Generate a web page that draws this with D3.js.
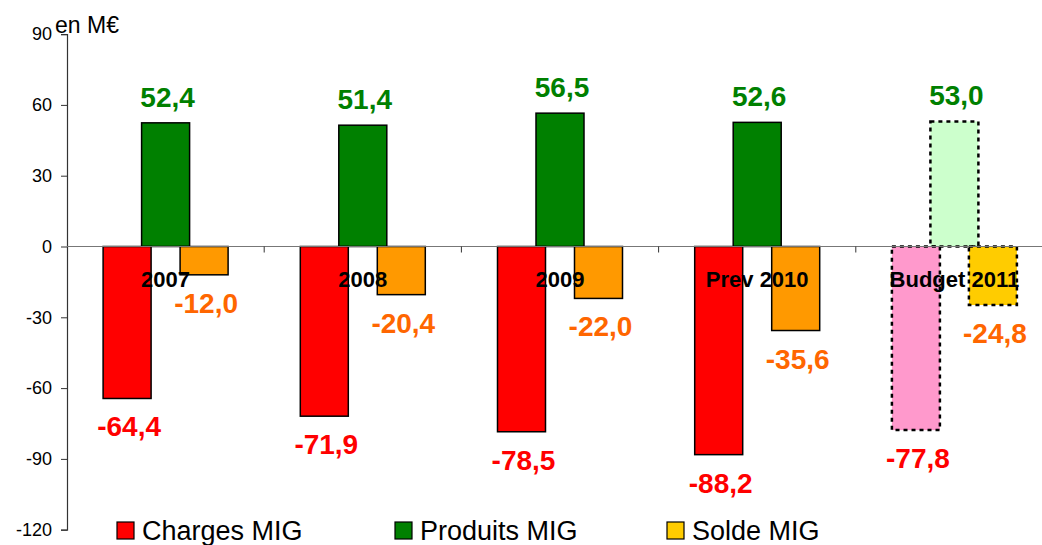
<!DOCTYPE html>
<html>
<head>
<meta charset="utf-8">
<script src="https://cdn.jsdelivr.net/npm/d3@7"></script>
<style>
  body { margin: 0; background: #fff; }
  svg { font-family: "Liberation Sans", Arial, sans-serif; }
</style>
</head>
<body>
<div id="app"></div>
<script>
const width = 1042,
  height = 545;

// data
const categories = ["2007", "2008", "2009", "Prev 2010", "Budget 2011"];
const charges = [-64.4, -71.9, -78.5, -88.2, -77.8];
const produits = [52.4, 51.4, 56.5, 52.6, 53.0];
const solde = [-12.0, -20.4, -22.0, -35.6, -24.8];
const yTicks = [90, 60, 30, 0, -30, -60, -90, -120];
const seriesNames = ["Charges MIG", "Produits MIG", "Solde MIG"];

const fills = ["#FF0000", "#008000", "#FF9900"];
const budgetFills = ["#FF99CC", "#CCFFCC", "#FFCC00"];
const labelColors = ["#FF0000", "#008000", "#FF6600"];
const legendFills = ["#FF0000", "#008000", "#FFCC00"];

const series = [charges, produits, solde];

const x = d3.scaleBand().domain(categories).range([67, 1053]).padding(0);
const y = d3.scaleLinear().domain([-120, 90]).range([529.7, 34.1]);

const barW = 48,
  step = 38.5;

const svg = d3
  .select("#app")
  .append("svg")
  .attr("width", width)
  .attr("height", height);

// y axis
const yAxis = svg
  .append("g")
  .attr("transform", "translate(67,0)")
  .call(
    d3
      .axisLeft(y)
      .tickValues(yTicks)
      .tickSize(6)
      .tickPadding(9)
      .tickFormat((d) => String(d))
  );
yAxis.select(".domain").attr("stroke", "#333").attr("stroke-width", 1.2);
yAxis.selectAll(".tick line").attr("stroke", "#333");
yAxis
  .selectAll("text")
  .attr("font-size", 18)
  .attr("fill", "#000")
  .attr("font-family", "Liberation Sans, Arial");

svg
  .append("text")
  .attr("x", 55)
  .attr("y", 33)
  .attr("font-size", 23)
  .text("en M€");

// bars
const bars = [];
categories.forEach((c, i) => {
  series.forEach((s, j) => {
    bars.push({ cat: c, i: i, j: j, v: s[i] });
  });
});

const barX = (d) => x(d.cat) + x.bandwidth() / 2 + (d.j - 1) * step - barW / 2;
const isBudget = (d) => d.i === categories.length - 1;

// draw order: green behind red/orange
const order = [1, 0, 2];
const barG = svg.append("g");
order.forEach((j) => {
  barG
    .selectAll(null)
    .data(bars.filter((d) => d.j === j))
    .join("rect")
    .attr("x", barX)
    .attr("width", barW)
    .attr("y", (d) => y(Math.max(0, d.v)))
    .attr("height", (d) => Math.abs(y(d.v) - y(0)))
    .attr("fill", (d) => (isBudget(d) ? budgetFills[d.j] : fills[d.j]))
    .attr("stroke", "#000")
    .attr("stroke-width", (d) => (isBudget(d) ? 2.5 : 1.5))
    .attr("stroke-dasharray", (d) => (isBudget(d) ? "4,4" : null));
});

// zero axis
svg
  .append("line")
  .attr("x1", 67)
  .attr("x2", width)
  .attr("y1", y(0))
  .attr("y2", y(0))
  .attr("stroke", "#777")
  .attr("stroke-width", 1.2);

svg
  .append("g")
  .selectAll("line")
  .data(categories.slice(1))
  .join("line")
  .attr("x1", (d) => x(d))
  .attr("x2", (d) => x(d))
  .attr("y1", y(0))
  .attr("y2", y(0) + 6)
  .attr("stroke", "#333");

// category labels
svg
  .append("g")
  .selectAll("text")
  .data(categories)
  .join("text")
  .attr("x", (d) => x(d) + x.bandwidth() / 2)
  .attr("y", 287)
  .attr("text-anchor", "middle")
  .attr("font-size", 22)
  .attr("font-weight", "bold")
  .attr("fill", "#000")
  .text((d) => d);

// value labels
const fmt = (v) => d3.format(".1f")(v).replace(".", ",").replace("−", "-");
svg
  .append("g")
  .selectAll("text")
  .data(bars)
  .join("text")
  .attr("x", (d) => barX(d) + barW / 2 + 2)
  .attr("y", (d) => (d.v >= 0 ? y(d.v) - 16 : y(d.v) + 38))
  .attr("text-anchor", "middle")
  .attr("font-size", 28)
  .attr("font-weight", "bold")
  .attr("fill", (d) => labelColors[d.j])
  .text((d) => fmt(d.v));

// legend
const legendX = [117, 395, 667];
const legend = svg
  .append("g")
  .selectAll("g")
  .data(seriesNames)
  .join("g")
  .attr("transform", (d, i) => `translate(${legendX[i]},522)`);
legend
  .append("rect")
  .attr("width", 17)
  .attr("height", 17)
  .attr("fill", (d, i) => legendFills[i])
  .attr("stroke", "#000")
  .attr("stroke-width", 1.2);
legend
  .append("text")
  .attr("x", 25)
  .attr("y", 18)
  .attr("font-size", 27)
  .attr("fill", "#000")
  .text((d) => d);
</script>
</body>
</html>
